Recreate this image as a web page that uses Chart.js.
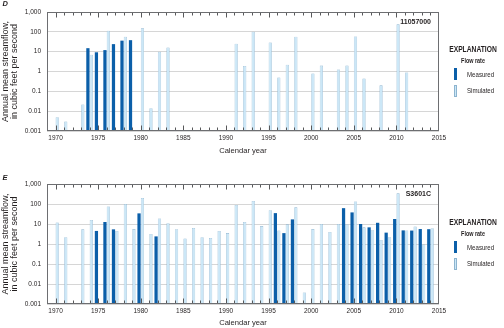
<!DOCTYPE html>
<html>
<head>
<meta charset="utf-8">
<script src="https://cdn.jsdelivr.net/npm/chart.js@4.4.0/dist/chart.umd.min.js"></script>
<style>
  html, body { margin: 0; padding: 0; background: #fff; }
  body { width: 504px; height: 328px; position: relative; overflow: hidden;
         font-family: 'Liberation Sans', Arial, sans-serif; color: #231f20; }
  .panel { position: absolute; left: 0; width: 504px; height: 164px; }
  .panel canvas { position: absolute; left: 0; top: 0; }
  .lg { position: absolute; left: 440px; width: 66px; height: 60px; }
  .lg div { position: absolute; white-space: nowrap; }
  .lg .exp { left: 0; width: 66px; text-align: center; font-weight: bold; font-size: 8.2px; line-height: 8.4px; top: 2px;
             transform: scaleX(0.82); transform-origin: 33px 0; }
  .lg .sub { left: 0; width: 66px; text-align: center; font-weight: bold; font-size: 6.4px; line-height: 6.6px; top: 14px;
             transform: scaleX(0.85); transform-origin: 33px 0; }
  .lg .sw { left: 14px; width: 3.3px; height: 12px; box-sizing: border-box; }
  .lg .m { background: #0b5fa9; top: 24px; }
  .lg .s { background: #cbe7f7; border: 0.6px solid #8db4cf; top: 41px; }
  .lg .t { left: 26.5px; font-size: 7.2px; line-height: 8px; transform: scaleX(0.85); transform-origin: 0 0; }
</style>
</head>
<body>
<div class="panel" style="top:0px">
  <canvas id="chartD" width="504" height="164"></canvas>
  <div class="lg" style="top:44px">
    <div class="exp">EXPLANATION</div>
    <div class="sub">Flow rate</div>
    <div class="sw m"></div><div class="t" style="top:26.5px">Measured</div>
    <div class="sw s"></div><div class="t" style="top:43px">Simulated</div>
  </div>
</div>
<div class="panel" style="top:164px">
  <canvas id="chartE" width="504" height="164"></canvas>
  <div class="lg" style="top:53px">
    <div class="exp">EXPLANATION</div>
    <div class="sub">Flow rate</div>
    <div class="sw m"></div><div class="t" style="top:26.5px">Measured</div>
    <div class="sw s"></div><div class="t" style="top:43px">Simulated</div>
  </div>
</div>
<script>
// calendar years 1970-2014, one value per year (null = no bar)
const years = [
  1970, 1971, 1972, 1973, 1974, 1975, 1976, 1977, 1978, 1979,
  1980, 1981, 1982, 1983, 1984, 1985, 1986, 1987, 1988, 1989,
  1990, 1991, 1992, 1993, 1994, 1995, 1996, 1997, 1998, 1999,
  2000, 2001, 2002, 2003, 2004, 2005, 2006, 2007, 2008, 2009,
  2010, 2011, 2012, 2013, 2014
];

// panel D, station 11057000
const measuredD = [
  null, null, null, null, 15,   9.3, 12, 24, 36, 38,
  null, null, null, null, null, null, null, null, null, null,
  null, null, null, null, null, null, null, null, null, null,
  null, null, null, null, null, null, null, null, null, null,
  null, null, null, null, null
];
const simulatedD = [
  0.005, 0.003, null, 0.022, 7,  null, 115, null, 57, null,
  150, 0.014, 10, 16, null,      null, null, null, null, null,
  null, 25, 1.9, 102, null,      29, 0.5, 2.2, 57, null,
  0.8, 2.0, null, 1.26, 2.0,     59, 0.45, null, 0.2, null,
  240, 0.9, null, null, null
];

// panel E, station S3601C
const measuredE = [
  null, null, null, null, null,  4.5, 12.6, 5.4, null, null,
  34, null, 2.4, null, null,     null, null, null, null, null,
  null, null, null, null, null,  null, 35, 3.5, 17, null,
  null, null, null, null, 62,    38, 10, 6.8, 11.5, 3.7,
  17.8, 4.8, 4.7, 5.6, 5.5
];
const simulatedE = [
  12, 2.2, null, 5.4, 16,        null, 76, 4.5, 100, 5.6,
  200, 3.2, 19, 11, 5.5,         1.9, 6.3, 2.2, 2.0, 4.5,
  3.5, 89, 12.6, 141, 7.9,       49, 4.8, 9.6, 68, 0.0038,
  5.6, 10, 4, 10, 9.8,           135, 6.8, 4.9, 1.6, 2.2,
  340, 4.8, 7.6, 0.95, 6.2
];

const xTickValues = [1970, 1975, 1980, 1985, 1990, 1995, 2000, 2005, 2010, 2015];
const yTickValues = [0.001, 0.01, 0.1, 1, 10, 100, 1000];
const yTickLabels = ['0.001', '0.01', '0.1', '1', '10', '100', '1,000'];

const FONT = "'Liberation Sans', Arial, sans-serif";
const INK = '#231f20';

// frame, inward year ticks, station id and panel letter
const framePlugin = {
  id: 'frame',
  afterDatasetsDraw(chart, args, opts) {
    const { ctx, chartArea: a, scales: { x } } = chart;
    const l = Math.round(a.left) + 0.5, r = Math.round(a.right) - 0.5;
    const t = Math.round(a.top) + 0.5, b = Math.round(a.bottom) - 0.5;
    ctx.save();
    ctx.strokeStyle = '#58595b';
    ctx.lineWidth = 1;
    ctx.beginPath();
    for (let yr = Math.ceil(x.min) + 1; yr < x.max; yr++) {
      const px = Math.round(x.getPixelForValue(yr)) + 0.5;
      const len = yr % 5 === 0 ? 5 : 3;
      ctx.moveTo(px, t); ctx.lineTo(px, t + len);
      ctx.moveTo(px, b); ctx.lineTo(px, b - len);
    }
    ctx.stroke();
    ctx.strokeStyle = '#6d6e71';
    ctx.strokeRect(l, t, r - l, b - t);

    ctx.fillStyle = INK;
    ctx.font = 'bold 7px ' + FONT;
    ctx.textAlign = 'right';
    ctx.textBaseline = 'middle';
    ctx.fillText(opts.station, a.right - 8, a.top + 10.5);

    ctx.font = 'italic bold 7.5px ' + FONT;
    ctx.textAlign = 'left';
    ctx.fillText(opts.letter, 2.5, opts.letterY);
    ctx.restore();
  }
};

function makePanel(id, measured, simulated, station, letter, letterY, plotTop, xHeight, titlePad) {
  const toPoints = arr => years.map((yr, i) => ({ x: yr, y: arr[i] }));
  return new Chart(document.getElementById(id), {
    type: 'bar',
    data: {
      datasets: [{
        label: 'Measured',
        data: toPoints(measured),
        backgroundColor: '#0b5fa9',
        borderWidth: 0,
        categoryPercentage: 0.8,
        barPercentage: 0.95
      }, {
        label: 'Simulated',
        data: toPoints(simulated),
        backgroundColor: '#cbe7f7',
        borderColor: '#8db4cf',
        borderWidth: 0.6,
        borderSkipped: 'bottom',
        categoryPercentage: 0.8,
        barPercentage: 0.95
      }]
    },
    options: {
      responsive: false,
      animation: false,
      devicePixelRatio: 1,
      layout: { padding: { top: plotTop, right: 65, bottom: 0, left: 0 } },
      plugins: {
        legend: { display: false },
        tooltip: { enabled: false },
        frame: { station: station, letter: letter, letterY: letterY }
      },
      scales: {
        x: {
          type: 'linear',
          min: 1969,
          max: 2015,
          offset: false,
          afterBuildTicks: s => { s.ticks = xTickValues.map(v => ({ value: v })); },
          afterFit: s => { s.height = xHeight; },
          grid: { display: false, drawTicks: false, offset: false },
          border: { display: false },
          ticks: {
            autoSkip: false, maxRotation: 0, padding: 3.5,
            color: INK, font: { family: FONT, size: 6.5 },
            callback: v => String(v)
          },
          title: {
            display: true, text: 'Calendar year', color: INK,
            font: { family: FONT, size: 7.6 },
            padding: { top: 0, bottom: titlePad }
          }
        },
        y: {
          type: 'logarithmic',
          min: 0.001,
          max: 1000,
          afterBuildTicks: s => { s.ticks = yTickValues.map(v => ({ value: v })); },
          afterFit: s => { s.width = 47; },
          grid: { color: '#d6d6d6', lineWidth: 1, drawTicks: false },
          border: { display: false },
          ticks: {
            autoSkip: false, padding: 6,
            color: INK, font: { family: FONT, size: 6.5 },
            callback: v => yTickLabels[yTickValues.indexOf(v)]
          },
          title: {
            display: true,
            text: ['Annual mean streamflow,', 'in cubic feet per second'],
            color: INK,
            font: { family: FONT, size: 9, lineHeight: 0.92 },
            padding: { top: 1.8, bottom: 0 }
          }
        }
      }
    },
    plugins: [framePlugin]
  });
}

makePanel('chartD', measuredD, simulatedD, '11057000', 'D', 4, 12, 33, 9);
makePanel('chartE', measuredE, simulatedE, 'S3601C', 'E', 13.5, 20, 24, 0.5);
</script>
</body>
</html>
